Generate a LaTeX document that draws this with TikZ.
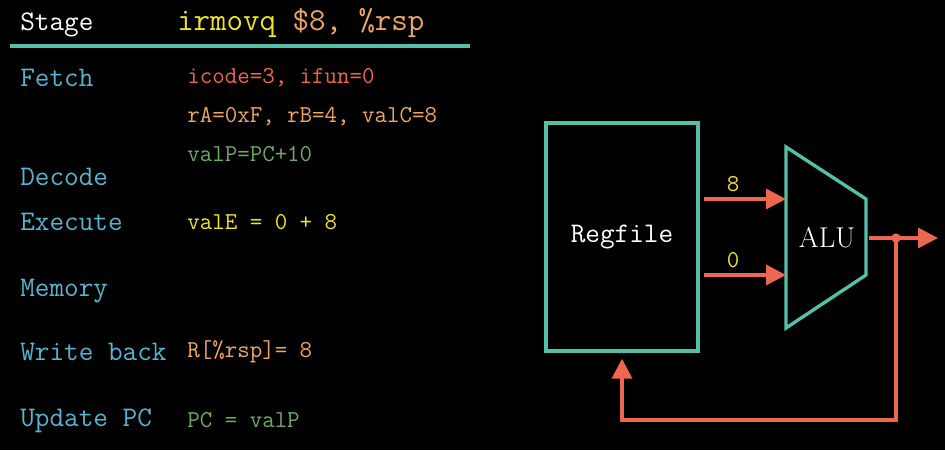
\documentclass[tikz,border=0pt]{standalone}
\usepackage{fontspec}
\usetikzlibrary{arrows.meta}

\definecolor{lineteal}{RGB}{84,192,170}
\definecolor{stageblue}{RGB}{88,180,208}
\definecolor{ayellow}{RGB}{240,228,40}
\definecolor{aorange}{RGB}{238,168,100}
\definecolor{asalmon}{RGB}{236,102,80}
\definecolor{agreen}{RGB}{112,172,100}

\tikzset{
  txt/.style={anchor=base west, inner sep=0pt},
  stagelbl/.style={txt, text=stageblue, font=\ttfamily\fontsize{21.3}{25}\selectfont},
  vallbl/.style={txt, font=\ttfamily\fontsize{18.2}{22}\selectfont},
  unit/.style={draw=lineteal, line width=2.5pt},
  wire/.style={draw=asalmon, line width=2.6pt},
  tip/.style={-{Triangle[length=15pt,width=15pt]}}
}

\begin{document}
\begin{tikzpicture}[x=0.75pt,y=-0.75pt]

    \fill[black] (0,0) rectangle (945,450);
    \useasboundingbox (0,0) rectangle (945,450);

    % table head
    \node[stagelbl, text=white] (stg) at (20,30) {Stage};
    \node[txt, font=\ttfamily\fontsize{24}{28}\selectfont] (ins) at (177,30)
      {\textcolor{ayellow}{irmovq} \textcolor{aorange}{\$8, \%rsp}};
    \draw[draw=lineteal, line width=2.4pt] (10,46) -- (470,46);

    % stages
    \foreach \t/\y/\n in {Fetch/86/fe, Decode/185/de, Execute/230/ex,
                          Memory/296/me, Write back/360/wb, Update PC/426/pc}
      \node[stagelbl] (\n) at (20,\y) {\t};

    % values
    \node[vallbl, text=asalmon] (v1) at (187,83) {icode=3, ifun=0};
    \node[vallbl, text=aorange] (v2) at (187,122) {rA=0xF, rB=4, valC=8};
    \node[vallbl, text=agreen] (v3) at (187,161) {valP=PC+10};
    \node[vallbl, text=ayellow] (v4) at (187,229) {valE = 0 + 8};
    \node[vallbl, text=aorange] (v5) at (187,357) {R[\%rsp]= 8};
    \node[vallbl, text=agreen] (v6) at (187,427) {PC = valP};

    % regfile
    \node[unit, minimum width=114pt, minimum height=171pt, text=white,
          font=\ttfamily\fontsize{21.3}{25}\selectfont] (rf) at (622,237) {Regfile};

    % alu
    \coordinate (alunw) at (786,147);
    \coordinate (alune) at (866,199);
    \coordinate (aluse) at (866,275);
    \coordinate (alusw) at (786,328);
    \draw[unit, line join=miter] (alunw) -- (alune) -- (aluse) -- (alusw) -- cycle;
    \node[text=white, font=\rmfamily\fontsize{21.5}{25}\selectfont] (alu) at (827,238) {ALU};

    \coordinate (ina) at (786,199);
    \coordinate (inb) at (786,275);
    \coordinate (dot) at (896,238);
    \coordinate (out) at (938,238);
    \coordinate (back) at (896,420);

    \draw[wire, tip] ([xshift=3pt]rf.east |- ina) -- (ina);
    \draw[wire, tip] ([xshift=3pt]rf.east |- inb) -- (inb);
    \node[vallbl, anchor=base, text=ayellow] (l8) at (733,191) {8};
    \node[vallbl, anchor=base, text=ayellow] (l0) at (733,267) {0};

    \draw[wire, tip] ([xshift=2pt]alune |- dot) -- (out);
    \fill[asalmon] (dot) circle (3.5pt);
    \draw[wire, tip] (dot) -- (back) -| ([yshift=-4.5pt]rf.south);

\end{tikzpicture}
\end{document}
